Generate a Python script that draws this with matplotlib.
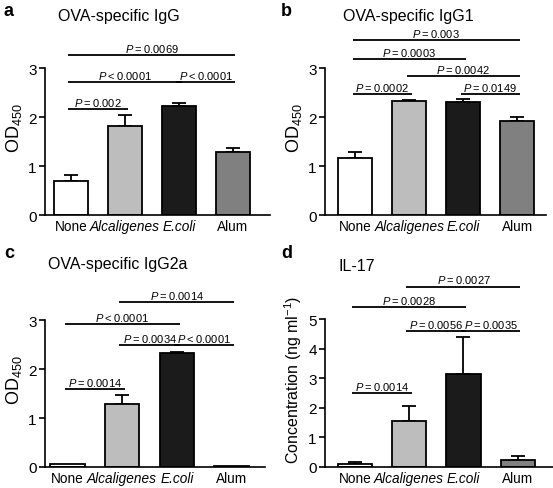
import matplotlib
matplotlib.use("Agg")
import matplotlib.pyplot as plt

plt.rcParams["font.family"] = ["Liberation Sans", "DejaVu Sans"]
plt.rcParams["mathtext.fontset"] = "custom"
plt.rcParams["mathtext.rm"] = "Liberation Sans"
plt.rcParams["mathtext.it"] = "Liberation Sans:italic"

groups = ["None", "Alcaligenes", "E.coli", "Alum"]
italic_groups = [False, True, True, False]
colors = ["#ffffff", "#bdbdbd", "#1b1b1b", "#808080"]

# panel a: OVA-specific IgG
igg = [0.70, 1.82, 2.23, 1.28]
igg_err = [0.11, 0.22, 0.07, 0.10]
igg_p = [(0, 1, 2.16, "=0.002"), (0, 2, 2.73, "<0.0001"),
         (2, 3, 2.73, "<0.0001"), (0, 3, 3.27, "=0.0069")]

# panel b: OVA-specific IgG1
igg1 = [1.17, 2.33, 2.32, 1.93]
igg1_err = [0.11, 0.02, 0.06, 0.08]
igg1_p = [(0, 1, 2.47, "=0.0002"), (2, 3, 2.47, "=0.0149"),
          (1, 3, 2.84, "=0.0042"), (0, 2, 3.20, "=0.0003"),
          (0, 3, 3.57, "=0.003")]

# panel c: OVA-specific IgG2a
igg2a = [0.07, 1.28, 2.33, 0.03]
igg2a_err = [0.0, 0.20, 0.02, 0.0]
igg2a_p = [(0, 1, 1.59, "=0.0014"), (1, 2, 2.50, "=0.0034"),
           (2, 3, 2.50, "<0.0001"), (0, 2, 2.92, "<0.0001"),
           (1, 3, 3.37, "=0.0014")]

# panel d: IL-17
il17 = [0.10, 1.55, 3.15, 0.22]
il17_err = [0.07, 0.52, 1.25, 0.16]
il17_p = [(0, 1, 2.50, "=0.0014"), (1, 2, 4.60, "=0.0056"),
          (2, 3, 4.60, "=0.0035"), (0, 2, 5.40, "=0.0028"),
          (1, 3, 6.10, "=0.0027")]

W, H = 553, 489
fig = plt.figure(figsize=(W / 100, H / 100), dpi=100)


def panel(rect_px, xlim, ymax, ytop, yticks, vals, errs, pvals, letter, letter_xy,
          title, title_xy, ylabel, ylabel_size, ptxt_off):
    x0, ybot, x1 = rect_px
    h_px = 176
    ax = fig.add_axes([x0 / W, 1 - ybot / H, (x1 - x0) / W, h_px / H])
    xs = range(len(groups))
    ax.bar(xs, vals, width=0.63, color=colors, edgecolor="black", linewidth=1.3,
           zorder=2)
    for x, v, e in zip(xs, vals, errs):
        if e > 0:
            ax.errorbar(x, v, yerr=[[0], [e]], fmt="none", ecolor="black",
                        elinewidth=1.3, capsize=5, capthick=1.3, zorder=1)
    ax.set_xlim(*xlim)
    ax.set_ylim(0, ytop)
    ax.spines["top"].set_visible(False)
    ax.spines["right"].set_visible(False)
    ax.spines["left"].set_bounds(0, ymax)
    ax.spines["left"].set_linewidth(1.2)
    ax.spines["bottom"].set_linewidth(1.2)
    ax.set_yticks(yticks)
    ax.tick_params(axis="y", labelsize=11, length=4, width=1.2, pad=2)
    ax.set_xticks(list(xs))
    ax.set_xticklabels(groups, fontsize=9.8)
    for lab, it in zip(ax.get_xticklabels(), italic_groups):
        if it:
            lab.set_style("italic")
    ax.tick_params(axis="x", length=0, pad=3)
    ax.set_ylabel(ylabel, fontsize=ylabel_size, labelpad=3)
    for i, j, y, s in pvals:
        ax.plot([i - 0.05, j + 0.05], [y, y], color="black", lw=1.3, clip_on=False,
                solid_capstyle="butt")
        txt = "$P$" + "\u2009" + s[0] + "\u2009" + s[1:]
        ax.text((i + j) / 2, y + ptxt_off, txt, fontsize=8,
                ha="center", va="bottom")
    fig.text(letter_xy[0] / W, 1 - letter_xy[1] / H, letter, fontsize=13,
             fontweight="bold", va="center", ha="left")
    fig.text(title_xy[0] / W, 1 - title_xy[1] / H, title, fontsize=11.5,
             va="center", ha="left")
    return ax


panel((45, 216, 270), (-0.48, 3.69), 3, 3.6, [0, 1, 2, 3], igg, igg_err, igg_p,
      "a", (4, 12), "OVA-specific IgG", (58, 17), "OD$_{450}$", 13, 0.02)
panel((325, 216, 546), (-0.56, 3.53), 3, 3.6, [0, 1, 2, 3], igg1, igg1_err, igg1_p,
      "b", (281, 11), "OVA-specific IgG1", (343, 16), "OD$_{450}$", 13, 0.02)
panel((45, 468, 265), (-0.41, 3.61), 3, 3.6, [0, 1, 2, 3], igg2a, igg2a_err, igg2a_p,
      "c", (4, 254), "OVA-specific IgG2a", (48, 265), "OD$_{450}$", 13, 0.02)
panel((325, 468, 553), (-0.55, 3.65), 5, 5.95, [0, 1, 2, 3, 4, 5], il17, il17_err,
      il17_p, "d", (281, 254), "IL-17", (339, 267),
      "Concentration (ng ml$^{-1}$)", 11.5, 0.04)

fig.savefig("out.png", dpi=100)
